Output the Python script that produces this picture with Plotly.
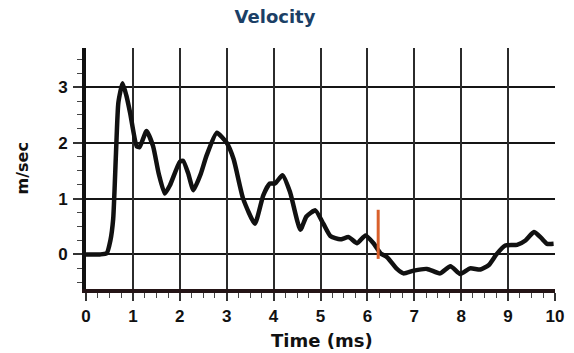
import plotly.graph_objects as go

# Velocity trace (time in ms, velocity in m/sec)
time_ms = [0.0, 0.3, 0.44, 0.52, 0.58, 0.64, 0.69, 0.78, 0.86, 0.94, 1.08, 1.14, 1.29,
           1.43, 1.55, 1.68, 1.79, 2.0, 2.07, 2.18, 2.29, 2.45, 2.57, 2.79, 3.0,
           3.15, 3.35, 3.6, 3.78, 3.92, 4.03, 4.19, 4.35, 4.57, 4.7, 4.89, 5.06,
           5.21, 5.42, 5.6, 5.78, 5.96, 6.13, 6.28, 6.42, 6.63, 6.77, 6.99, 7.27,
           7.55, 7.77, 7.98, 8.19, 8.41, 8.59, 8.76, 8.94, 9.19, 9.37, 9.55, 9.7,
           9.83, 9.97]
velocity = [0.0, 0.0, 0.02, 0.25, 0.64, 1.83, 2.72, 3.07, 2.85, 2.54, 1.94, 1.92, 2.21,
            1.94, 1.45, 1.09, 1.24, 1.66, 1.68, 1.45, 1.15, 1.45, 1.77, 2.18, 2.0,
            1.7, 1.0, 0.55, 1.06, 1.27, 1.27, 1.42, 1.12, 0.44, 0.68, 0.79, 0.55,
            0.33, 0.27, 0.31, 0.2, 0.34, 0.2, 0.02, -0.05, -0.26, -0.34, -0.29, -0.26,
            -0.34, -0.21, -0.35, -0.25, -0.27, -0.19, 0.01, 0.16, 0.17, 0.25, 0.4, 0.3,
            0.19, 0.19]

# Event marker
marker_time = [6.23, 6.23]
marker_velocity = [0.8, -0.08]

x_ticks = [0, 1, 2, 3, 4, 5, 6, 7, 8, 9, 10]
x_grid = [1, 2, 3, 4, 5, 6, 7, 8, 9]
y_ticks = [0, 1, 2, 3]

fig = go.Figure()

# invisible helper on a second x-axis carrying the interior vertical grid
fig.add_trace(go.Scatter(x=[0, 10], y=[0, 0], xaxis="x2", mode="none",
                         showlegend=False, hoverinfo="skip"))

fig.add_trace(go.Scatter(x=time_ms, y=velocity, mode="lines",
                         line=dict(color="#111111", width=4.5, shape="spline", smoothing=0.5),
                         showlegend=False))

fig.add_trace(go.Scatter(x=marker_time, y=marker_velocity, mode="lines",
                         line=dict(color="#d9602b", width=3), showlegend=False))

tick_font = dict(family="Liberation Sans", size=17, color="#111111", weight="bold")

fig.update_layout(
    width=574, height=353,
    margin=dict(l=86, r=19, t=48, b=64, autoexpand=False),
    paper_bgcolor="white", plot_bgcolor="white",
    font=dict(family="DejaVu Sans", color="#111111"),
    title=dict(text="<b>Velocity</b>", x=275 / 574, xref="container", xanchor="center",
               y=1 - 17 / 353, yref="container", yanchor="middle",
               font=dict(family="DejaVu Sans", size=18, color="#1b3f66")),
    xaxis=dict(range=[0, 10], tickvals=x_ticks, showgrid=False, zeroline=False,
               automargin=False,
               showline=True, linecolor="#241416", linewidth=4,
               ticks="outside", ticklen=8, tickwidth=1.5, tickcolor="#333333",
               tickfont=tick_font, ticklabelstandoff=1,
               minor=dict(dtick=0.25, tick0=0, ticks="outside", ticklen=5,
                          tickwidth=1.2, tickcolor="#444444", showgrid=False)),
    xaxis2=dict(range=[0, 10], overlaying="x", tickvals=x_grid, showgrid=True,
                gridcolor="#2b2b2b", gridwidth=1.6, showticklabels=False,
                automargin=False,
                ticks="", zeroline=False, showline=False),
    yaxis=dict(range=[-0.62, 3.7], tickvals=y_ticks, showgrid=True,
               gridcolor="#151515", gridwidth=2, zeroline=False,
               automargin=False,
               showline=True, linecolor="#111111", linewidth=4,
               ticks="outside", ticklen=9, tickwidth=1.5, tickcolor="#333333",
               tickfont=tick_font, ticklabelstandoff=2,
               minor=dict(dtick=0.25, tick0=0, ticks="outside", ticklen=5,
                          tickwidth=1.2, tickcolor="#444444", showgrid=False)),
    annotations=[
        dict(text="<b>Time (ms)</b>", xref="paper", yref="paper",
             x=(322 - 86) / (574 - 86 - 19), y=-(340 - 289) / (353 - 48 - 64),
             xanchor="center", yanchor="middle", showarrow=False,
             font=dict(family="DejaVu Sans", size=18, color="#111111")),
        dict(text="<b>m/sec</b>", xref="paper", yref="paper",
             x=-(86 - 22) / (574 - 86 - 19), y=0.5, textangle=-90,
             xanchor="center", yanchor="middle", showarrow=False,
             font=dict(family="DejaVu Sans", size=16, color="#111111")),
    ],
)

fig.write_html("out.html")
